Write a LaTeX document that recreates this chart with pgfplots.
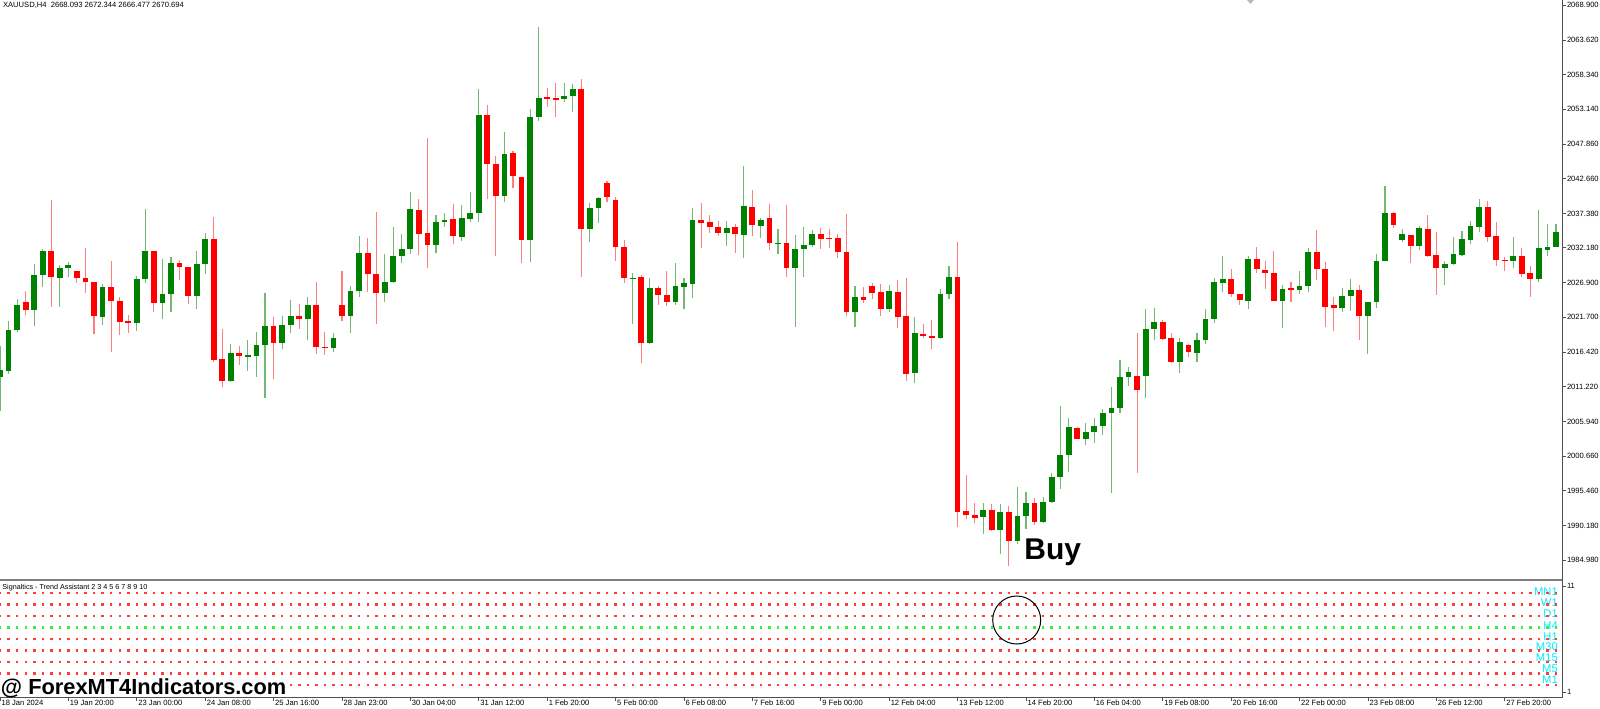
\documentclass[border=0pt]{standalone}
\usepackage{fontspec}
\setmainfont{Liberation Sans}
\usepackage{pgfplots}
\usepackage{pgfplotstable}
\pgfplotsset{compat=1.18}

\definecolor{bull}{RGB}{0,128,0}
\definecolor{bear}{RGB}{255,0,0}
\definecolor{bullwick}{RGB}{115,185,115}
\definecolor{bearwick}{RGB}{255,125,125}
\definecolor{frame}{RGB}{80,80,80}
\definecolor{sepgray}{RGB}{128,128,128}
\definecolor{dotred}{RGB}{255,60,60}
\definecolor{dotgreen}{RGB}{60,235,60}
\definecolor{tfname}{RGB}{0,235,255}
\newcommand{\mtfont}{\fontsize{3.8pt}{4.4pt}\selectfont}

% H4 candles, x = bar number (0 = 18 Jan 2024), bullish bars
\pgfplotstableread{
k o h l c
0 2012.70 2017.34 2007.52 2013.72
1 2013.61 2021.17 2013.11 2019.76
2 2019.76 2024.41 2019.50 2023.59
4 2022.83 2029.74 2020.37 2028.03
5 2028.03 2032.06 2026.31 2031.75
7 2027.67 2029.59 2023.29 2029.18
8 2029.18 2030.09 2027.82 2029.59
12 2021.77 2026.67 2020.52 2026.22
16 2020.78 2027.93 2019.61 2027.48
17 2027.48 2038.01 2026.83 2031.71
19 2023.89 2030.50 2021.38 2025.21
20 2025.21 2030.80 2022.53 2029.89
23 2024.90 2031.71 2022.89 2029.70
24 2029.70 2034.39 2028.23 2033.52
27 2012.10 2017.65 2011.95 2016.33
29 2015.79 2018.25 2013.61 2015.98
30 2015.83 2019.51 2012.70 2017.54
31 2017.50 2025.31 2009.53 2020.37
33 2017.75 2021.88 2016.94 2020.47
34 2020.52 2024.25 2019.36 2021.93
36 2021.38 2024.71 2018.25 2023.50
39 2017.00 2019.26 2016.48 2018.60
41 2021.88 2026.42 2019.36 2025.71
42 2025.71 2033.98 2024.71 2031.36
45 2025.40 2031.21 2024.04 2026.98
46 2026.98 2035.29 2026.90 2030.95
47 2030.95 2034.23 2029.85 2032.06
48 2032.06 2040.58 2031.26 2038.01
51 2032.66 2037.15 2031.45 2036.14
52 2036.09 2037.41 2035.29 2036.44
54 2033.87 2038.66 2033.27 2036.70
55 2036.55 2040.58 2036.14 2037.45
56 2037.41 2056.20 2036.09 2052.27
59 2039.98 2049.70 2039.16 2046.38
62 2033.42 2053.18 2030.09 2052.01
63 2052.01 2065.62 2051.41 2054.84
66 2054.69 2057.07 2054.24 2055.19
67 2055.19 2056.91 2052.77 2056.16
69 2035.04 2038.92 2033.11 2038.17
70 2038.17 2039.92 2035.99 2039.77
74 2027.58 2028.43 2020.67 2027.67
76 2017.84 2027.58 2017.60 2026.07
79 2024.00 2029.89 2023.54 2026.37
80 2026.31 2027.58 2022.89 2026.83
81 2026.72 2038.17 2024.56 2036.40
85 2034.48 2036.24 2032.46 2035.23
87 2034.17 2044.61 2030.60 2038.47
89 2035.53 2036.65 2033.72 2036.44
91 2032.81 2035.08 2031.21 2032.92
93 2029.09 2034.13 2020.17 2032.01
94 2032.06 2035.38 2027.82 2032.57
95 2032.57 2034.88 2032.36 2034.32
100 2022.53 2026.42 2020.26 2024.80
104 2022.94 2026.57 2022.53 2025.62
107 2013.22 2021.68 2011.80 2019.26
110 2018.51 2025.92 2018.36 2025.21
111 2025.21 2029.44 2024.45 2027.78
115 1991.49 1993.65 1988.87 1992.50
117 1989.48 1993.41 1985.94 1992.25
119 1987.91 1996.07 1987.41 1991.64
120 1991.69 1995.31 1989.63 1993.61
122 1990.78 1994.56 1990.54 1993.76
123 1993.71 1998.19 1993.56 1997.49
124 1997.49 2008.32 1995.68 2000.86
125 2000.82 2006.50 1998.34 2005.10
127 2003.24 2005.66 2002.38 2004.30
128 2004.30 2006.50 2002.72 2005.20
129 2005.25 2007.82 2003.89 2007.26
130 2007.26 2011.10 1995.07 2007.93
131 2007.93 2015.23 2007.17 2012.66
132 2012.66 2014.12 2011.30 2013.37
134 2012.85 2022.94 2009.44 2019.92
135 2019.92 2023.05 2018.25 2020.93
138 2014.97 2018.60 2013.31 2017.90
140 2016.24 2019.26 2014.97 2018.30
141 2018.30 2022.89 2017.65 2021.47
142 2021.47 2027.67 2020.87 2026.98
143 2026.92 2030.95 2025.46 2027.48
146 2024.19 2030.95 2022.89 2030.54
150 2024.19 2026.57 2020.11 2026.01
152 2025.77 2028.69 2025.16 2026.42
153 2026.42 2032.12 2025.46 2031.51
157 2023.09 2026.07 2022.53 2024.90
158 2024.90 2027.43 2022.68 2025.81
160 2021.93 2023.95 2016.09 2023.95
161 2023.95 2031.26 2023.05 2030.20
162 2030.20 2041.54 2030.20 2037.41
164 2033.33 2035.08 2033.11 2034.32
166 2032.51 2035.49 2031.86 2035.14
169 2029.18 2030.24 2026.57 2029.74
170 2029.70 2033.78 2029.59 2031.26
171 2031.10 2034.73 2030.95 2033.48
172 2033.37 2036.29 2032.77 2035.49
173 2035.38 2039.57 2034.63 2038.32
177 2030.20 2033.78 2029.18 2031.00
180 2027.42 2037.96 2027.08 2032.18
181 2031.84 2035.80 2030.96 2032.30
182 2032.30 2035.80 2032.30 2034.56
}\bullbars

% bearish bars
\pgfplotstableread{
k o h l c
3 2023.95 2025.66 2022.03 2022.79
6 2031.75 2039.42 2023.20 2027.82
9 2028.64 2028.64 2026.92 2027.63
10 2027.58 2032.16 2025.40 2027.07
11 2027.07 2027.07 2019.16 2021.93
13 2026.22 2030.24 2016.48 2024.19
14 2024.19 2024.80 2019.01 2021.02
15 2021.08 2022.03 2019.27 2020.78
18 2031.71 2031.71 2022.44 2023.89
21 2029.89 2030.35 2027.32 2029.33
22 2029.33 2029.33 2023.70 2024.90
25 2033.52 2036.80 2014.93 2015.23
26 2015.33 2019.87 2011.19 2012.10
28 2016.33 2017.34 2014.47 2015.83
32 2020.37 2021.68 2012.40 2017.75
35 2021.88 2023.65 2019.87 2021.38
37 2023.50 2026.98 2016.09 2017.15
38 2017.19 2019.46 2015.94 2017.09
40 2023.50 2028.69 2021.17 2021.88
43 2031.36 2033.63 2025.55 2028.19
44 2028.19 2037.65 2020.63 2025.40
49 2037.91 2039.57 2031.06 2034.32
50 2034.38 2048.75 2029.09 2032.62
53 2036.55 2038.86 2032.81 2033.98
57 2052.27 2053.78 2039.57 2044.82
58 2044.82 2046.07 2030.95 2039.98
60 2046.48 2046.83 2041.19 2043.00
61 2042.90 2042.90 2029.94 2033.42
64 2054.99 2056.31 2053.53 2054.84
65 2054.84 2057.07 2052.01 2054.69
68 2056.25 2057.76 2027.82 2035.04
71 2041.95 2042.34 2039.16 2039.83
72 2039.42 2039.92 2030.24 2032.36
73 2032.36 2033.37 2026.83 2027.58
75 2027.73 2028.08 2014.82 2017.84
77 2026.07 2026.46 2023.54 2025.06
78 2025.06 2028.69 2023.44 2024.00
82 2036.40 2039.01 2032.12 2035.99
83 2036.09 2037.11 2034.48 2035.29
84 2035.38 2036.24 2034.02 2034.48
86 2035.29 2035.75 2031.36 2034.28
88 2038.36 2040.93 2033.98 2035.64
90 2036.65 2038.82 2031.86 2032.87
92 2032.87 2038.66 2027.82 2029.09
96 2034.28 2035.23 2031.97 2033.57
97 2033.72 2035.08 2032.21 2033.57
98 2033.63 2034.23 2030.60 2031.60
99 2031.60 2037.30 2021.88 2022.53
101 2024.80 2026.31 2023.89 2024.30
102 2026.42 2026.92 2024.45 2025.40
103 2025.51 2026.67 2021.88 2022.94
105 2025.51 2027.32 2020.02 2021.77
106 2021.88 2027.63 2012.10 2013.11
108 2019.16 2020.67 2018.51 2018.86
109 2018.86 2021.28 2016.85 2018.55
112 2027.78 2033.07 1989.93 1992.25
113 1992.40 1997.84 1991.14 1991.75
114 1991.79 1993.65 1990.54 1991.34
116 1992.50 1993.41 1989.37 1989.48
118 1992.25 1993.15 1984.08 1987.91
121 1993.61 1994.32 1990.28 1990.78
126 2004.99 2005.14 2003.24 2003.33
133 2012.85 2019.26 1998.10 2010.74
136 2021.02 2021.28 2018.25 2018.36
137 2018.51 2019.36 2014.82 2014.97
139 2017.50 2017.60 2015.64 2016.39
144 2027.48 2028.99 2024.80 2025.21
145 2025.21 2025.21 2023.54 2024.30
147 2030.54 2032.36 2028.43 2028.94
148 2028.84 2030.20 2026.01 2028.34
149 2028.34 2031.71 2024.19 2024.19
151 2026.07 2027.07 2023.95 2025.77
154 2031.51 2034.88 2027.32 2029.03
155 2029.03 2030.00 2020.26 2023.29
156 2023.50 2024.80 2019.61 2023.14
159 2025.81 2026.57 2018.25 2021.93
163 2037.41 2037.61 2035.23 2035.64
165 2034.08 2034.08 2029.94 2032.51
167 2035.08 2037.15 2030.85 2030.95
168 2031.06 2034.58 2025.06 2029.18
174 2038.32 2039.22 2033.02 2033.83
175 2033.93 2036.14 2029.44 2030.30
176 2030.35 2030.85 2028.73 2030.24
178 2031.00 2032.12 2027.82 2028.19
179 2028.44 2029.46 2024.70 2027.42
}\bearbars

\begin{document}
\begin{tikzpicture}
\useasboundingbox (0pt,0pt) rectangle (800pt,354pt);

% price panel
\begin{axis}[
  at={(0pt,65pt)}, anchor=south west, scale only axis,
  width=781pt, height=289pt,
  xmin=0, xmax=182.7, ymin=1982.27, ymax=2069.66,
  axis line style={draw=none},
  xtick=\empty, ytick pos=right,
  ytick={1984.98,1990.18,1995.46,2000.66,2005.94,2011.22,2016.42,2021.70,2026.90,2032.18,2037.38,2042.66,2047.86,2053.14,2058.34,2063.62,2068.90},
  yticklabels={1984.980,1990.180,1995.460,2000.660,2005.940,2011.220,2016.420,2021.700,2026.900,2032.180,2037.380,2042.660,2047.860,2053.140,2058.340,2063.620,2068.900},
  tick align=outside, major tick length=2pt,
  tick style={draw=frame, line width=0.4pt},
  yticklabel style={font=\mtfont, anchor=west, inner sep=0pt, xshift=0.3pt},
]
\addplot[draw=none, mark=none, forget plot, error bars/.cd, y dir=both, y explicit, error mark=none,
  error bar style={draw=bullwick, line width=0.55pt}]
  table[x=k, y expr={(\thisrow{h}+\thisrow{l})/2}, y error expr={(\thisrow{h}-\thisrow{l})/2}] {\bullbars};
\addplot[draw=none, mark=none, forget plot, error bars/.cd, y dir=both, y explicit, error mark=none,
  error bar style={draw=bearwick, line width=0.55pt}]
  table[x=k, y expr={(\thisrow{h}+\thisrow{l})/2}, y error expr={(\thisrow{h}-\thisrow{l})/2}] {\bearbars};
\addplot[draw=none, mark=none, forget plot, error bars/.cd, y dir=both, y explicit, error mark=none,
  error bar style={draw=bull, line width=2.9pt}]
  table[x=k, y expr={(\thisrow{o}+\thisrow{c})/2}, y error expr={max(abs(\thisrow{c}-\thisrow{o})/2,0.08)}] {\bullbars};
\addplot[draw=none, mark=none, forget plot, error bars/.cd, y dir=both, y explicit, error mark=none,
  error bar style={draw=bear, line width=2.9pt}]
  table[x=k, y expr={(\thisrow{o}+\thisrow{c})/2}, y error expr={max(abs(\thisrow{c}-\thisrow{o})/2,0.08)}] {\bearbars};
\end{axis}

% indicator panel
\begin{axis}[
  at={(0pt,5.5pt)}, anchor=south west, scale only axis,
  width=781pt, height=58pt,
  xmin=0, xmax=182.7, ymin=0.528, ymax=11.47,
  axis line style={draw=none},
  xtick pos=bottom, ytick pos=right,
  xtick={0,8,...,176},
  xticklabels={18 Jan 2024,19 Jan 20:00,23 Jan 00:00,24 Jan 08:00,25 Jan 16:00,28 Jan 23:00,30 Jan 04:00,31 Jan 12:00,1 Feb 20:00,5 Feb 00:00,6 Feb 08:00,7 Feb 16:00,9 Feb 00:00,12 Feb 04:00,13 Feb 12:00,14 Feb 20:00,16 Feb 04:00,19 Feb 08:00,20 Feb 16:00,22 Feb 00:00,23 Feb 08:00,26 Feb 12:00,27 Feb 20:00},
  ytick={1,11}, yticklabels={1,11},
  tick align=outside, major tick length=2pt,
  tick style={draw=frame, line width=0.4pt},
  xticklabel style={font=\mtfont, anchor=north west, inner sep=0pt, xshift=0.6pt, yshift=0.6pt},
  yticklabel style={font=\mtfont, anchor=west, inner sep=0pt, xshift=0.3pt},
  clip=false,
]
\pgfplotsinvokeforeach{10.37,9.28,8.19,6.01,4.93,3.84,2.75,1.66}{
  \addplot[only marks, mark=square*, mark size=0.36pt, color=dotred, forget plot] table[x=k, y expr=#1] {\bullbars};
  \addplot[only marks, mark=square*, mark size=0.36pt, color=dotred, forget plot] table[x=k, y expr=#1] {\bearbars};
}
\addplot[only marks, mark=square*, mark size=0.36pt, color=dotgreen, forget plot] table[x=k, y expr=7.10] {\bullbars};
\addplot[only marks, mark=square*, mark size=0.36pt, color=dotgreen, forget plot] table[x=k, y expr=7.10] {\bearbars};
\begin{scope}[every node/.style={anchor=east, inner sep=0pt, text=tfname, font=\fontsize{5.6pt}{6pt}\selectfont}]
\node at (axis cs:182.25,10.43) {MN1};
\node at (axis cs:182.25,9.40) {W1};
\node at (axis cs:182.25,8.36) {D1};
\node at (axis cs:182.25,7.27) {H4};
\node at (axis cs:182.25,6.22) {H1};
\node at (axis cs:182.25,5.25) {M30};
\node at (axis cs:182.25,4.21) {M15};
\node at (axis cs:182.25,3.17) {M5};
\node at (axis cs:182.25,2.17) {M1};
\end{scope}
\end{axis}

% frame, separator and annotations
\draw[sepgray, line width=1pt] (0pt,64.25pt) -- (781.25pt,64.25pt);
\draw[frame, line width=0.5pt] (781.25pt,5.5pt) -- (781.25pt,354pt);
\draw[frame, line width=0.5pt] (0pt,5.5pt) -- (781.25pt,5.5pt);
\fill[gray!55] (623.5pt,354pt) -- (627pt,354pt) -- (625.25pt,352pt) -- cycle;
\node[anchor=west, inner sep=0pt, font=\mtfont] at (1.35pt,351.3pt) {XAUUSD,H4\ \ 2668.093 2672.344 2666.477 2670.694};
\node[anchor=west, inner sep=0pt, font=\fontsize{3.6pt}{4pt}\selectfont] at (1pt,60pt) {Signaltics - Trend Assistant 2 3 4 5 6 7 8 9 10};
\node[anchor=base west, inner sep=0pt, font=\bfseries\fontsize{15pt}{16pt}\selectfont] at (512pt,74.5pt) {Buy};
\draw[black, line width=0.5pt] (508.35pt,44pt) circle (12pt);
\fill[white] (0pt,6pt) rectangle (143.5pt,15.6pt);
\node[anchor=base west, inner sep=0pt, font=\bfseries\fontsize{10.9pt}{12pt}\selectfont] at (0.3pt,6.8pt) {@ ForexMT4Indicators.com};
\end{tikzpicture}
\end{document}
